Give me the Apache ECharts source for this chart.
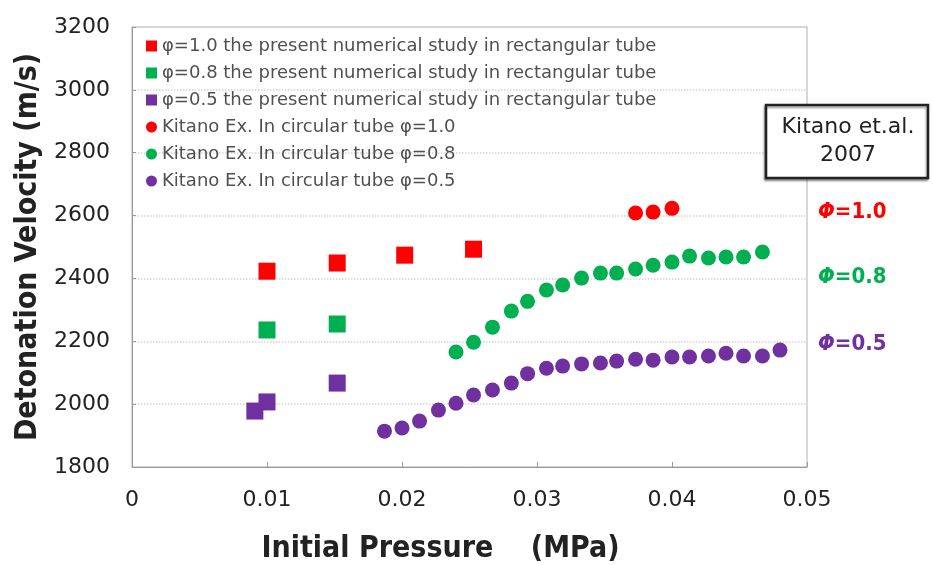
<!DOCTYPE html>
<html>
<head>
<meta charset="utf-8">
<script src="https://cdn.jsdelivr.net/npm/echarts@6/dist/echarts.min.js"></script>
<style>
  html, body { margin: 0; padding: 0; background: #fff; }
  #chart { width: 933px; height: 565px; }
</style>
</head>
<body>
<div id="chart"></div>
<script>
// pressure (MPa) / velocity (m/s)
var numP10 = [0.010, 0.0152, 0.0202, 0.0253];
var numV10 = [2423, 2449, 2474, 2493];
var numP08 = [0.010, 0.0152];
var numV08 = [2236, 2255];
var numP05 = [0.0091, 0.010, 0.0152];
var numV05 = [1978, 2007, 2067];

var expP10 = [0.0373, 0.0386, 0.0400];
var expV10 = [2608, 2611, 2623];
var expP08 = [0.0240, 0.0253, 0.0267, 0.0281, 0.0293, 0.0307, 0.0319, 0.0333, 0.0347, 0.0359,
              0.0373, 0.0386, 0.0400, 0.0413, 0.0427, 0.0440, 0.0453, 0.0467];
var expV08 = [2166, 2197, 2245, 2296, 2327, 2363, 2379, 2401, 2417, 2417,
              2430, 2442, 2452, 2471, 2465, 2468, 2468, 2484];
var expP05 = [0.0187, 0.0200, 0.0213, 0.0227, 0.0240, 0.0253, 0.0267, 0.0281, 0.0293, 0.0307,
              0.0319, 0.0333, 0.0347, 0.0359, 0.0373, 0.0386, 0.0400, 0.0413, 0.0427, 0.0440,
              0.0453, 0.0467, 0.0480];
var expV05 = [1914, 1924, 1946, 1981, 2003, 2029, 2045, 2067, 2097, 2114,
              2121, 2128, 2131, 2137, 2143, 2140, 2150, 2150, 2153, 2162,
              2153, 2153, 2172];

var seriesNames = [
  'φ=1.0 the present numerical study in rectangular tube',
  'φ=0.8 the present numerical study in rectangular tube',
  'φ=0.5 the present numerical study in rectangular tube',
  'Kitano Ex. In circular tube φ=1.0',
  'Kitano Ex. In circular tube φ=0.8',
  'Kitano Ex. In circular tube φ=0.5'
];
var phiLabels = ['=1.0', '=0.8', '=0.5'];
var phiY = [2610, 2405, 2190]; // vertical position of the Φ labels, in velocity units

var RED = '#ff0000', GREEN = '#00b050', PURPLE = '#7030a0';
var FONT = "'DejaVu Sans Condensed', 'DejaVu Sans', sans-serif";
var TICKFONT = "'DejaVu Sans', sans-serif";

function pairs(xs, ys) {
  var out = [];
  for (var i = 0; i < xs.length; i++) out.push([xs[i], ys[i]]);
  return out;
}

var chart = echarts.init(document.getElementById('chart'));

function makeSeries(name, data, color, shape, size) {
  return {
    name: name,
    type: 'scatter',
    symbol: shape,
    symbolSize: size,
    itemStyle: { color: color, opacity: 1 },
    data: data,
    z: 3
  };
}

var option = {
  animation: false,
  backgroundColor: '#fff',
  grid: {
    left: 132, right: 126, top: 27, bottom: 98,
    outerBoundsMode: 'none',
    containLabel: false,
    show: true, borderColor: '#b0b0b0', borderWidth: 1
  },
  legend: {
    orient: 'vertical',
    left: 146, top: 37,
    itemWidth: 11, itemHeight: 11,
    itemGap: 9,
    padding: 0,
    textStyle: { fontFamily: TICKFONT, fontSize: 18, color: '#505050', lineHeight: 18 },
    data: [
      { name: seriesNames[0], icon: 'rect' },
      { name: seriesNames[1], icon: 'rect' },
      { name: seriesNames[2], icon: 'rect' },
      { name: seriesNames[3], icon: 'circle' },
      { name: seriesNames[4], icon: 'circle' },
      { name: seriesNames[5], icon: 'circle' }
    ]
  },
  xAxis: {
    type: 'value',
    min: 0, max: 0.05, interval: 0.01,
    name: 'Initial Pressure    (MPa)',
    nameLocation: 'middle',
    nameGap: 67,
    nameTextStyle: { fontFamily: FONT, fontSize: 30, fontWeight: 'bold', color: '#222', padding: [0, 58, 0, 0] },
    axisLine: { show: true, lineStyle: { color: '#999', width: 1 } },
    axisTick: { show: true, inside: true, length: 5, lineStyle: { color: '#999' } },
    axisLabel: {
      margin: 22, fontFamily: TICKFONT, fontSize: 22, color: '#222',
      formatter: function (v) { return v === 0 ? '0' : v.toFixed(2); }
    },
    splitLine: { show: false }
  },
  yAxis: {
    type: 'value',
    min: 1800, max: 3200, interval: 200,
    name: 'Detonation Velocity (m/s)',
    nameLocation: 'middle',
    nameGap: 80,
    nameTextStyle: { fontFamily: FONT, fontSize: 30, fontWeight: 'bold', color: '#222' },
    axisLine: { show: true, lineStyle: { color: '#999', width: 1 } },
    axisTick: { show: true, inside: true, length: 4, lineStyle: { color: '#999' } },
    axisLabel: {
      margin: 22, fontFamily: TICKFONT, fontSize: 22, color: '#222',
      formatter: function (v) { return String(v); }
    },
    splitLine: { show: true, lineStyle: { color: '#d4d4d4', type: 'dotted', width: 1.5 } }
  },
  series: [
    makeSeries(seriesNames[0], pairs(numP10, numV10), RED, 'rect', 17),
    makeSeries(seriesNames[1], pairs(numP08, numV08), GREEN, 'rect', 17),
    makeSeries(seriesNames[2], pairs(numP05, numV05), PURPLE, 'rect', 17),
    makeSeries(seriesNames[3], pairs(expP10, expV10), RED, 'circle', 15),
    makeSeries(seriesNames[4], pairs(expP08, expV08), GREEN, 'circle', 15),
    makeSeries(seriesNames[5], pairs(expP05, expV05), PURPLE, 'circle', 15)
  ]
};
chart.setOption(option);

// annotation box and Φ labels on the right side
var phiColors = [RED, GREEN, PURPLE];
var gfx = [
  {
    type: 'rect', shape: { x: 766, y: 105, width: 162, height: 73 },
    style: { fill: '#fff', stroke: '#222', lineWidth: 2.5, shadowColor: 'rgba(0,0,0,0.35)', shadowOffsetX: -1, shadowOffsetY: 2, shadowBlur: 2 },
    z: 10
  },
  {
    type: 'text', x: 848, y: 141, z: 11,
    style: {
      text: 'Kitano et.al.\n2007', align: 'center', verticalAlign: 'middle',
      font: '22px ' + TICKFONT, fill: '#222', lineHeight: 28
    }
  }
];
for (var i = 0; i < phiLabels.length; i++) {
  var pt = chart.convertToPixel({ gridIndex: 0 }, [0.05, phiY[i]]);
  gfx.push({
    type: 'text', x: 818, y: pt[1], z: 11,
    style: {
      text: '{p|Φ}' + phiLabels[i],
      verticalAlign: 'middle',
      font: 'bold 22px ' + FONT, fill: phiColors[i],
      rich: { p: { fontStyle: 'italic', fontWeight: 'bold', fontSize: 22, fontFamily: FONT, fill: phiColors[i], color: phiColors[i] } }
    }
  });
}
chart.setOption({ graphic: gfx });

window.addEventListener('resize', function () { chart.resize(); });
</script>
</body>
</html>
